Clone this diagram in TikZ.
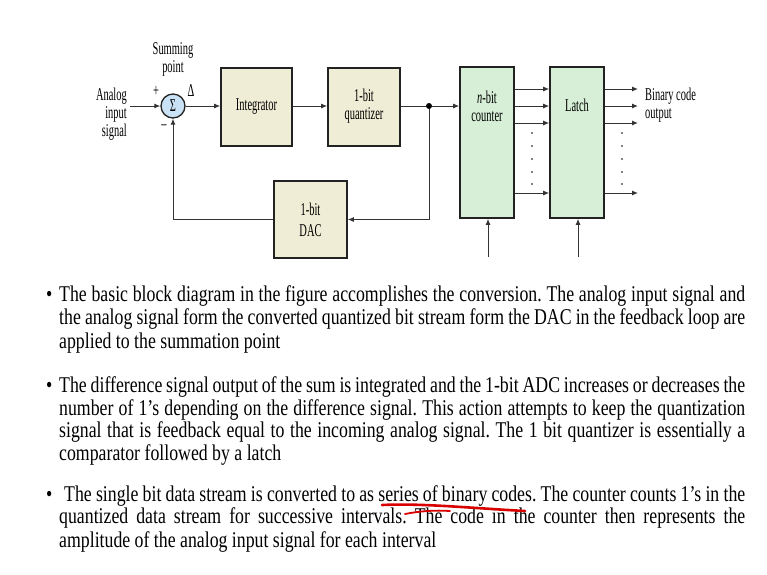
\documentclass[tikz,border=0pt]{standalone}
\usepackage{fontspec}
\setmainfont{Liberation Serif}
\newfontfamily\bodyfont[FakeStretch=0.79]{Liberation Serif}
\newfontfamily\figfont[FakeStretch=0.58]{Liberation Serif}
\usetikzlibrary{arrows.meta}
\definecolor{beige}{HTML}{EFEDD5}
\definecolor{mint}{HTML}{D6EFD6}
\definecolor{sky}{HTML}{C9E2F5}
\definecolor{ink}{HTML}{222222}
\definecolor{wire}{HTML}{333333}
\tikzset{
  blk/.style={draw=ink, line width=1.6pt, inner sep=0pt},
  ybox/.style={blk, fill=beige},
  gbox/.style={blk, fill=mint},
  wr/.style={draw=wire, line width=1pt},
  arr/.style={wr, -{Latex[length=6pt,width=5pt]}},
  lbl/.style={font=\figfont\fontsize{18}{18}\selectfont, inner sep=0pt, align=center},
  body/.style={font=\bodyfont\fontsize{22.5}{23}\selectfont, inner sep=0pt, anchor=base west},
  vdot/.style={fill=black, circle, inner sep=0pt, minimum size=1.6pt},
}
\newcommand{\jline}[1]{\makebox[686pt][s]{#1}}
\frenchspacing
\begin{document}
\begin{tikzpicture}[x=1pt,y=-1pt]
\useasboundingbox[fill=white] (0,0) rectangle (767,574);

% ---- blocks
\node[draw=ink, line width=1.3pt, fill=sky, circle, minimum size=24pt, inner sep=0pt, font=\figfont\fontsize{18}{18}\selectfont] (sum) at (173,106) {Σ};
\node[ybox, minimum width=71pt, minimum height=78pt] (int) at (256.5,107) {};
\node[ybox, minimum width=72pt, minimum height=78pt] (quant) at (364,107) {};
\node[gbox, minimum width=54pt, minimum height=151pt] (ctr) at (487,142.5) {};
\node[gbox, minimum width=54pt, minimum height=151pt] (latch) at (577,142.5) {};
\node[ybox, minimum width=73pt, minimum height=77pt] (dac) at (310.5,219.5) {};

% ---- block texts
\node[lbl] (inttxt) at (int) {Integrator};
\node[lbl] (quanttxt) at (364,106) {1-bit\\quantizer};
\node[lbl] (ctrtxt) at (487,106) {\textit{n}-bit\\counter};
\node[lbl] (latchtxt) at (577,105) {Latch};
\node[lbl] (dactxt) at (310.5,220) {1-bit\\[3pt]DAC};

% ---- side labels
\node[lbl, align=right, anchor=east] (intxt) at (127,114) {Analog\\input\\signal};
\node[lbl] (sumtxt) at (173,59) {Summing\\point};
\node[lbl] (plus) at (156,91) {+};
\node[lbl] (minus) at (164,127) {–};
\node[lbl] (delta) at (191,91) {Δ};
\node[lbl, align=left, anchor=west] (outtxt) at (645,105.5) {Binary code\\output};

% ---- forward path
\coordinate (in) at (130,106);
\draw[arr] (in) -- (sum.west);
\draw[arr] (sum.east) -- (int.west |- sum.east);
\draw[arr] (int.east |- sum.east) -- (quant.west |- sum.east);
\node[fill=black, circle, inner sep=0pt, minimum size=6pt] (jn) at (429,106) {};
\draw[wr] (quant.east |- jn) -- (jn);
\draw[arr] (jn) -- (ctr.west |- jn);

% ---- feedback
\draw[arr] (jn) |- (dac.east);
\draw[arr] (dac.west) -| (sum.south);

% ---- counter to latch, latch to output
\foreach \yy in {89,106,123,193} {
  \draw[arr] (ctr.east |- 0,\yy) -- (latch.west |- 0,\yy);
  \coordinate (o\yy) at (638,\yy);
  \draw[arr] (latch.east |- 0,\yy) -- (o\yy);
}
\foreach \yy in {133,146,159,172,184} {
  \node[vdot] (da\yy) at (532,\yy) {};
  \node[vdot] (db\yy) at (622,\yy) {};
}

% ---- clock inputs
\coordinate (ck1) at (488,257);
\coordinate (ck2) at (578,257);
\draw[arr] (ck1) -- (ctr.south -| ck1);
\draw[arr] (ck2) -- (latch.south -| ck2);

% ---- bullet text
\foreach \yy in {301,392,501} {
  \node[body] (b\yy) at (46,\yy) {•};
}
\node[body] (l11) at (59,301) {\jline{The basic block diagram in the figure accomplishes the conversion. The analog input signal and}};
\node[body] (l12) at (59,324.5) {\jline{the analog signal form the converted quantized bit stream form the DAC in the feedback loop are}};
\node[body] (l13) at (59,348) {applied to the summation point};

\node[body] (l21) at (59,392) {\jline{The difference signal output of the sum is integrated and the 1-bit ADC increases or decreases the}};
\node[body] (l22) at (59,415) {\jline{number of 1’s depending on the difference signal. This action attempts to keep the quantization}};
\node[body] (l23) at (59,437.5) {\jline{signal that is feedback equal to the incoming analog signal. The 1 bit quantizer is essentially a}};
\node[body] (l24) at (59,460) {comparator followed by a latch};

\node[body] (l31) at (64,501) {\makebox[681pt][s]{The single bit data stream is converted to as series of binary codes. The counter counts 1’s in the}};
\node[body] (l32) at (59,523.5) {\jline{quantized data stream for successive intervals. The code in the counter then represents the}};
\node[body] (l33) at (59,547) {amplitude of the analog input signal for each interval};

% ---- red hand-drawn underline
\draw[red!85!black, line width=2.6pt, line cap=round] (382,505) .. controls (420,503) and (470,508) .. (525,511);
\draw[red!85!black, line width=1.8pt, line cap=round] (405,514) .. controls (420,511) and (435,510) .. (450,511);
\end{tikzpicture}
\end{document}
